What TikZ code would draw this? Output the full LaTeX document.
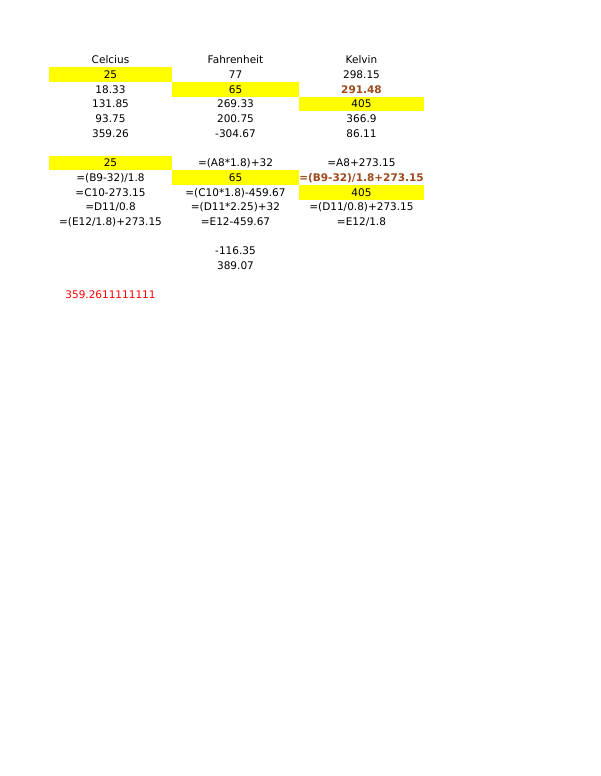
\documentclass[tikz,border=0pt]{standalone}
\usepackage{fontspec}
\setmainfont{DejaVu Sans}
\definecolor{hiyellow}{RGB}{255,255,0}
\definecolor{warnbrown}{RGB}{158,74,28}
\definecolor{errred}{RGB}{255,0,0}
\begin{document}
\begin{tikzpicture}[x=1pt,y=-1pt,
  cell/.style={inner sep=0pt,text height=7.65pt,text depth=0pt,font=\fontsize{10.5pt}{12pt}\selectfont,anchor=center},
  colA/.style={cell,minimum width=123pt,minimum height=14.7pt},
  colB/.style={cell,minimum width=127pt,minimum height=14.7pt},
  colC/.style={cell,minimum width=125pt,minimum height=14.7pt},
  hl/.style={fill=hiyellow},
  warn/.style={text=warnbrown,font=\fontsize{10.5pt}{12pt}\selectfont\bfseries},
  err/.style={text=errred}]
\useasboundingbox (0,0) rectangle (600,776);
\fill[white] (0,0) rectangle (600,776);
% header
\node[colA] (h1) at (110.5,59.95) {Celcius};
\node[colB] (h2) at (235.5,59.95) {Fahrenheit};
\node[colC] (h3) at (361.5,59.95) {Kelvin};
% values block
\node[colA,hl] (a1) at (110.5,74.65) {25};
\node[colB] (b1) at (235.5,74.65) {77};
\node[colC] (c1) at (361.5,74.65) {298.15};
\node[colA] (a2) at (110.5,89.35) {18.33};
\node[colB,hl] (b2) at (235.5,89.35) {65};
\node[colC,warn] (c2) at (361.5,89.35) {291.48};
\node[colA] (a3) at (110.5,104.05) {131.85};
\node[colB] (b3) at (235.5,104.05) {269.33};
\node[colC,hl] (c3) at (361.5,104.05) {405};
\node[colA] (a4) at (110.5,118.75) {93.75};
\node[colB] (b4) at (235.5,118.75) {200.75};
\node[colC] (c4) at (361.5,118.75) {366.9};
\node[colA] (a5) at (110.5,133.45) {359.26};
\node[colB] (b5) at (235.5,133.45) {-304.67};
\node[colC] (c5) at (361.5,133.45) {86.11};
% formulas block
\node[colA,hl] (fa1) at (110.5,162.85) {25};
\node[colB] (fb1) at (235.5,162.85) {=(A8*1.8)+32};
\node[colC] (fc1) at (361.5,162.85) {=A8+273.15};
\node[colA] (fa2) at (110.5,177.55) {=(B9-32)/1.8};
\node[colB,hl] (fb2) at (235.5,177.55) {65};
\node[colC,warn] (fc2) at (361.5,177.55) {=(B9-32)/1.8+273.15};
\node[colA] (fa3) at (110.5,192.25) {=C10-273.15};
\node[colB] (fb3) at (235.5,192.25) {=(C10*1.8)-459.67};
\node[colC,hl] (fc3) at (361.5,192.25) {405};
\node[colA] (fa4) at (110.5,206.95) {=D11/0.8};
\node[colB] (fb4) at (235.5,206.95) {=(D11*2.25)+32};
\node[colC] (fc4) at (361.5,206.95) {=(D11/0.8)+273.15};
\node[colA] (fa5) at (110.5,221.65) {=(E12/1.8)+273.15};
\node[colB] (fb5) at (235.5,221.65) {=E12-459.67};
\node[colC] (fc5) at (361.5,221.65) {=E12/1.8};
% extra
\node[colB] (x1) at (235.5,251.05) {-116.35};
\node[colB] (x2) at (235.5,265.75) {389.07};
\node[colA,err] (r1) at (110.5,295.15) {359.2611111111};
\end{tikzpicture}
\end{document}
